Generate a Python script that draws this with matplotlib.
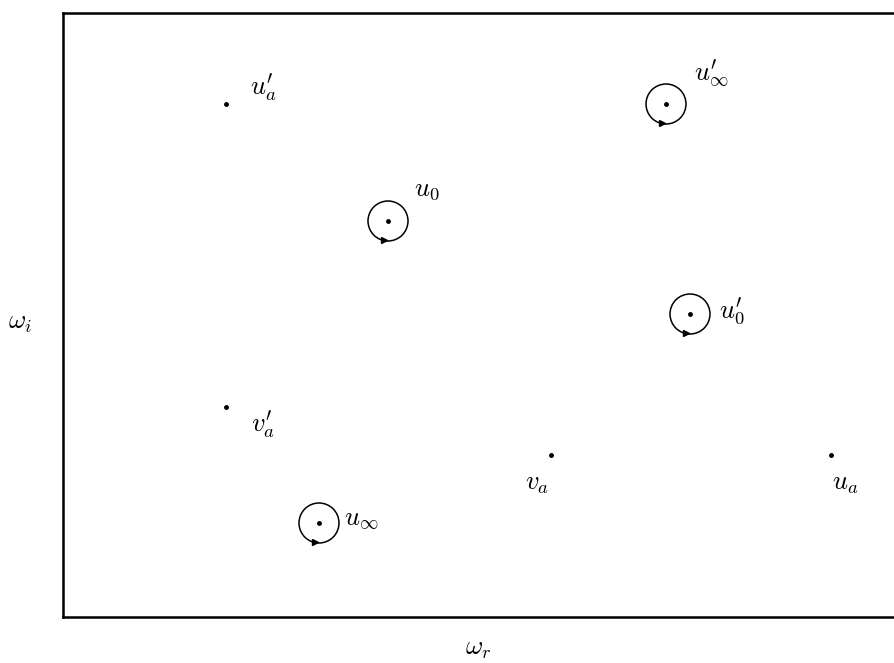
import matplotlib.pyplot as plt
import numpy as np
from matplotlib.patches import Circle

plt.rcParams['mathtext.fontset'] = 'cm'

# points (data units, 1 unit ~ 100 px)
dot_x = [1.63, 1.63, 4.88, 7.68]
dot_y = [5.13, 2.10, 1.62, 1.62]
dot_labels = [r"$u^{\prime}_a$", r"$v^{\prime}_a$", r"$v_a$", r"$u_a$"]
dot_offsets = [(0.37, 0.16), (0.37, -0.18), (-0.14, -0.28), (0.14, -0.28)]

loop_x = [6.03, 3.25, 6.27, 2.56]
loop_y = [5.13, 3.96, 3.03, 0.94]
loop_labels = [r"$u^{\prime}_\infty$", r"$u_0$", r"$u^{\prime}_0$", r"$u_\infty$"]
loop_offsets = [(0.45, 0.31), (0.39, 0.32), (0.42, 0.03), (0.42, 0.05)]

fig = plt.figure(figsize=(8.95, 6.63), dpi=100)
ax = fig.add_axes([63 / 895, 46 / 663, 840 / 895, 604 / 663])
ax.set_xlim(0, 8.40)
ax.set_ylim(0, 6.04)
ax.set_xticks([])
ax.set_yticks([])
for s in ax.spines.values():
    s.set_linewidth(1.8)
ax.spines['right'].set_visible(False)

# plain points
ax.plot(dot_x, dot_y, 'k.', markersize=5)
for x, y, lab, (dx, dy) in zip(dot_x, dot_y, dot_labels, dot_offsets):
    ax.text(x + dx, y + dy, lab, fontsize=19, ha='center', va='center')

# encircled points with orientation arrow
r = 0.2
for x, y, lab, (dx, dy) in zip(loop_x, loop_y, loop_labels, loop_offsets):
    ax.plot(x, y, 'k.', markersize=5)
    ax.add_patch(Circle((x, y), r, fill=False, lw=1.1, color='k'))
    a = np.deg2rad(-103)
    ax.plot(x + r * np.cos(a), y + r * np.sin(a), marker='>', color='k', markersize=5)
    ax.text(x + dx, y + dy, lab, fontsize=19, ha='center', va='center')

fig.text(478 / 895, 1 - 648 / 663, r'$\omega_r$', fontsize=19, ha='center', va='center')
fig.text(20 / 895, 1 - 322 / 663, r'$\omega_i$', fontsize=19, ha='center', va='center')

fig.savefig('out.png')
